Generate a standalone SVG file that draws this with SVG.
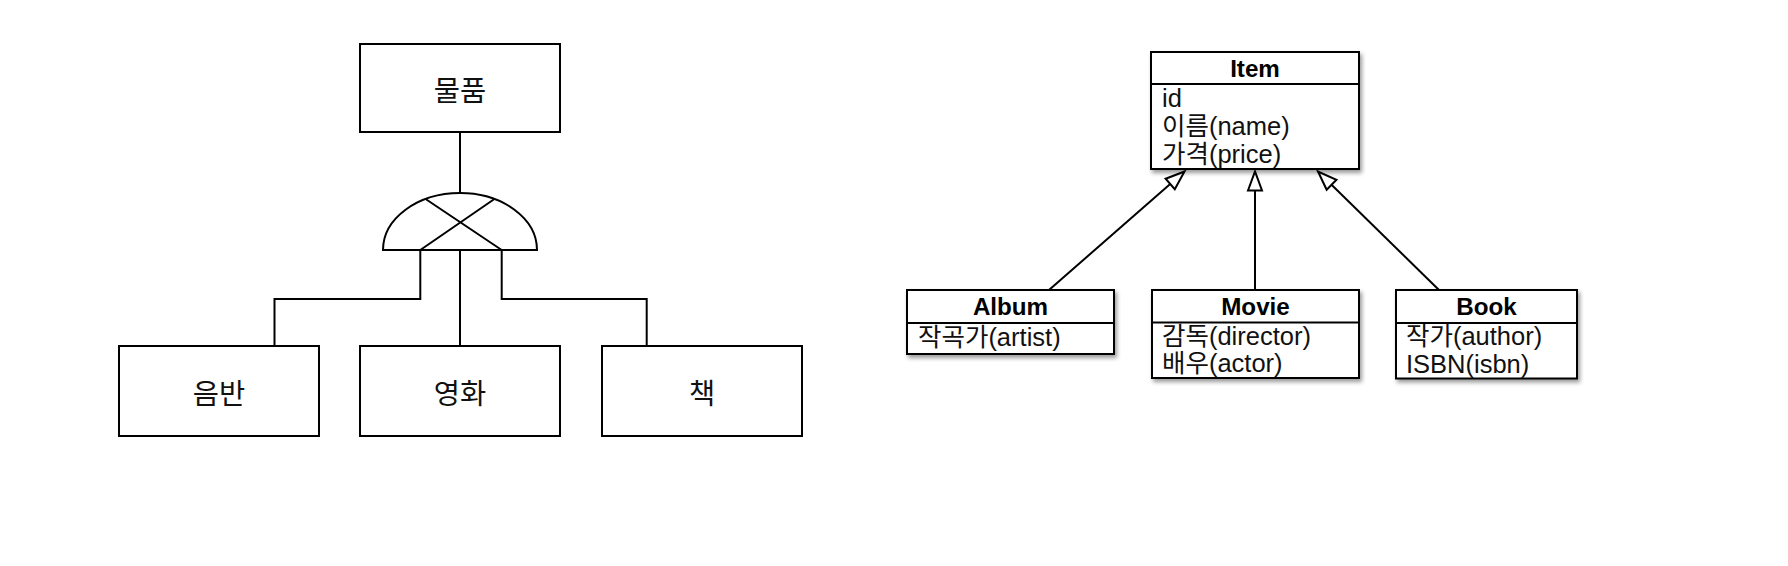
<svg xmlns="http://www.w3.org/2000/svg" width="1788" height="566" viewBox="0 0 1788 566">
<defs>
<style>
.box{fill:#fff;stroke:#000;stroke-width:2}
.ln{fill:none;stroke:#000;stroke-width:2}
.kr{font-family:"Noto Sans CJK KR","Liberation Sans",sans-serif;font-size:28.5px;fill:#111;text-anchor:middle;dominant-baseline:central}
.hd{font-family:"Liberation Sans","Noto Sans CJK KR",sans-serif;font-size:24.2px;font-weight:bold;fill:#000;text-anchor:middle}
.at{font-family:"Liberation Sans","Noto Sans CJK KR",sans-serif;font-size:25.5px;fill:#111}
.uml{fill:#fff;stroke:#000;stroke-width:2;filter:url(#sh)}
</style>
<filter id="sh" x="-10%" y="-10%" width="130%" height="140%">
<feDropShadow dx="2" dy="3" stdDeviation="2" flood-color="#000" flood-opacity="0.4"/>
</filter>
<marker id="tri" markerUnits="userSpaceOnUse" markerWidth="24" markerHeight="20" refX="19" refY="7" orient="auto" overflow="visible">
<path d="M0,0 L19,7 L0,14 Z" fill="#fff" stroke="#000" stroke-width="2" stroke-linejoin="miter"/>
</marker>
</defs>
<rect width="1788" height="566" fill="#fff"/>

<g id="connectors">
<path class="ln" d="M460,132 V193"/>
<path class="ln" d="M420.3,250 V299 H274.5 V346"/>
<path class="ln" d="M460,250 V346"/>
<path class="ln" d="M501.7,250 V299 H646.7 V346"/>
<path class="ln" d="M1049,290 L1184.5,171.5" marker-end="url(#tri)"/>
<path class="ln" d="M1255,290 L1255,171.5" marker-end="url(#tri)"/>
<path class="ln" d="M1439,290 L1318,171.5" marker-end="url(#tri)"/>
</g>

<g id="node-mulpum">
<rect class="box" x="360" y="44" width="200" height="88"/>
<text class="kr" x="460" y="88">물품</text>
</g>

<g id="gate">
<path class="box" d="M383,250 A77,57 0 0 1 537,250 Z"/>
<path class="ln" d="M425.6,199 L501.7,250 M494.4,199 L420.3,250"/>
</g>

<g id="node-eumban">
<rect class="box" x="119" y="346" width="200" height="90"/>
<text class="kr" x="219" y="391">음반</text>
</g>
<g id="node-yeonghwa">
<rect class="box" x="360" y="346" width="200" height="90"/>
<text class="kr" x="460" y="391">영화</text>
</g>
<g id="node-chaek">
<rect class="box" x="602" y="346" width="200" height="90"/>
<text class="kr" x="702" y="391">책</text>
</g>

<g id="node-item">
<rect class="uml" x="1151" y="52" width="208" height="117"/>
<path class="ln" d="M1151,84 H1359"/>
<text class="hd" x="1255" y="77">Item</text>
<text class="at" x="1162" y="106.5">id</text>
<text class="at" x="1162" y="134.5">이름(name)</text>
<text class="at" x="1162" y="162.5">가격(price)</text>
</g>

<g id="node-album">
<rect class="uml" x="907" y="290" width="207" height="64"/>
<path class="ln" d="M907,323 H1114"/>
<text class="hd" x="1010.5" y="314.5">Album</text>
<text class="at" x="918" y="346">작곡가(artist)</text>
</g>

<g id="node-movie">
<rect class="uml" x="1152" y="290" width="207" height="88"/>
<path class="ln" d="M1152,322.5 H1359"/>
<text class="hd" x="1255.5" y="314.5">Movie</text>
<text class="at" x="1162" y="344.5">감독(director)</text>
<text class="at" x="1162" y="372">배우(actor)</text>
</g>

<g id="node-book">
<rect class="uml" x="1396" y="290" width="181" height="88.5"/>
<path class="ln" d="M1396,323 H1577"/>
<text class="hd" x="1486.5" y="314.5">Book</text>
<text class="at" x="1406" y="345">작가(author)</text>
<text class="at" x="1406" y="373">ISBN(isbn)</text>
</g>
</svg>
